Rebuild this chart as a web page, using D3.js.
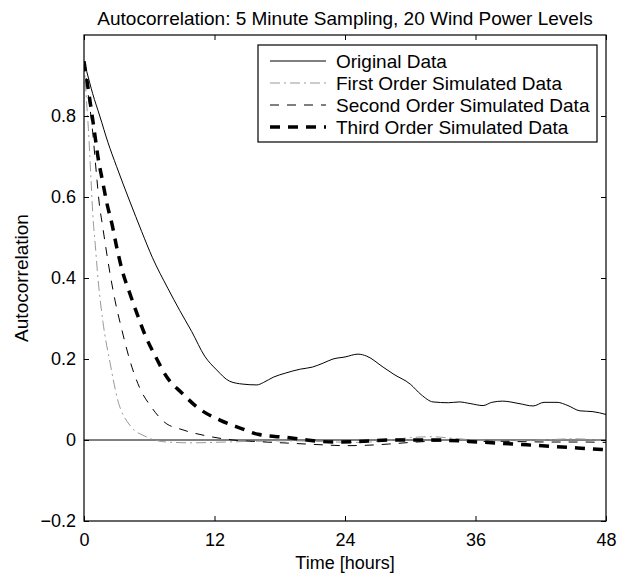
<!DOCTYPE html>
<html>
<head>
	<meta charset="utf-8">
	<title>Autocorrelation</title>
	<style>
		body { margin: 0; background: #fff; }
		text { font-family: "Liberation Sans", Arial, sans-serif; fill: #000; }
	</style>
</head>
<body>
	<svg width="631" height="575"></svg>
<script src="https://cdn.jsdelivr.net/npm/d3@7"></script>
<script>
	// data (hours, autocorrelation)
	let origT = [0, 0.25, 0.8, 1.45, 2.2, 3.0, 4.2, 5.3, 6.3, 7.7, 8.8, 9.9, 11.1, 12.2, 13.4, 14.6, 15.9, 16.5, 17.4, 18.5, 19.9, 21, 22, 22.9, 24, 25.2, 26, 27.5, 28.5, 30, 31, 32.1, 33.5, 34.5, 35.5, 36.7, 37.5, 38.5, 40, 41.3, 42.3, 43.5, 44.5, 45.6, 46.8, 48]
	let origV = [0.935, 0.91, 0.855, 0.80, 0.735, 0.675, 0.59, 0.515, 0.45, 0.375, 0.32, 0.268, 0.207, 0.173, 0.145, 0.138, 0.136, 0.142, 0.155, 0.165, 0.175, 0.18, 0.19, 0.20, 0.205, 0.212, 0.207, 0.18, 0.162, 0.138, 0.112, 0.094, 0.092, 0.094, 0.09, 0.085, 0.093, 0.096, 0.09, 0.084, 0.093, 0.093, 0.085, 0.072, 0.07, 0.063]

	let firstT = [0, 0.2, 0.4, 0.65, 0.85, 1.0, 1.3, 1.75, 2.4, 3.1, 4.2, 5.8, 7.6, 10, 13, 16, 19, 22, 25, 28, 30, 32, 34, 36, 39, 42, 45, 48]
	let firstV = [0.935, 0.85, 0.77, 0.64, 0.54, 0.494, 0.395, 0.29, 0.19, 0.099, 0.037, 0.007, -0.005, -0.007, -0.005, -0.003, -0.002, -0.004, -0.006, -0.001, 0.006, 0.008, 0.004, 0.0, -0.002, 0.0, 0.003, -0.002]

	let secondT = [0, 0.4, 0.8, 1.0, 1.2, 1.4, 1.7, 1.9, 2.4, 2.85, 3.5, 4.2, 5.1, 6.2, 7.4, 9.1, 11.3, 13.7, 16, 19, 22, 24, 26, 28, 30, 32, 34, 36, 38, 40, 43, 46, 48]
	let secondV = [0.935, 0.85, 0.76, 0.70, 0.64, 0.585, 0.53, 0.494, 0.41, 0.345, 0.27, 0.198, 0.13, 0.081, 0.044, 0.025, 0.01, 0.0, -0.004, -0.008, -0.012, -0.014, -0.013, -0.01, -0.006, -0.003, -0.002, -0.004, -0.003, -0.004, -0.005, -0.005, -0.006]

	let thirdT = [0, 0.4, 0.7, 1.0, 1.3, 1.7, 2.1, 2.6, 3.0, 3.5, 4.2, 4.9, 5.7, 6.6, 7.6, 9.0, 10.5, 12.5, 14.3, 16.0, 18.7, 20.5, 22.9, 25, 28.4, 32, 36.4, 40.7, 45, 48]
	let thirdV = [0.935, 0.864, 0.81, 0.753, 0.696, 0.64, 0.585, 0.53, 0.477, 0.42, 0.363, 0.31, 0.254, 0.205, 0.156, 0.116, 0.079, 0.049, 0.03, 0.014, 0.006, 0.0, -0.005, -0.004, 0.0, 0.0, -0.005, -0.012, -0.019, -0.024]

	let xTicks = [0, 12, 24, 36, 48]
	let yTicks = [-0.2, 0, 0.2, 0.4, 0.6, 0.8]
	let names = ["Original Data", "First Order Simulated Data", "Second Order Simulated Data", "Third Order Simulated Data"]

	let series = [
		{ name: names[0], t: origT, v: origV, color: "#000", width: 1, dash: null },
		{ name: names[1], t: firstT, v: firstV, color: "#999", width: 1, dash: "10,4,2,4" },
		{ name: names[2], t: secondT, v: secondV, color: "#000", width: 1, dash: "9,8" },
		{ name: names[3], t: thirdT, v: thirdV, color: "#000", width: 3.5, dash: "10,8" }
	]

	let L = 84, R = 606, T = 35, B = 521
	let x = d3.scaleLinear().domain([0, 48]).range([L, R])
	let y = d3.scaleLinear().domain([-0.2, 1.0]).range([B, T])

	let svg = d3.select("svg")

	svg.append("clipPath").attr("id", "clip")
		.append("rect").attr("x", L).attr("y", T).attr("width", R - L).attr("height", B - T)

	// zero line
	svg.append("line")
		.attr("x1", L).attr("x2", R).attr("y1", y(0)).attr("y2", y(0))
		.attr("stroke", "#000").attr("stroke-width", 1)

	// curves
	let line = d3.line().x(d => x(d[0])).y(d => y(d[1])).curve(d3.curveMonotoneX)
	svg.append("g").attr("clip-path", "url(#clip)")
		.selectAll("path").data(series).enter().append("path")
			.attr("fill", "none")
			.attr("stroke", d => d.color)
			.attr("stroke-width", d => d.width)
			.attr("stroke-dasharray", d => d.dash)
			.attr("d", d => line(d.t.map((t, i) => [t, d.v[i]])))

	// axes, ticks inward (matlab style)
	let fmt = d => d < 0 ? "\u2212" + Math.abs(d) : String(d)
	let ax = (gen, tr) => svg.append("g").attr("transform", tr).call(gen)
	ax(d3.axisBottom(x).tickValues(xTicks).tickSizeInner(-5).tickSizeOuter(0).tickPadding(12), `translate(0,${B})`)
	ax(d3.axisTop(x).tickValues(xTicks).tickSizeInner(-5).tickSizeOuter(0).tickFormat(""), `translate(0,${T})`)
	ax(d3.axisLeft(y).tickValues(yTicks).tickSizeInner(-5).tickSizeOuter(0).tickPadding(8).tickFormat(fmt), `translate(${L},0)`)
	ax(d3.axisRight(y).tickValues(yTicks).tickSizeInner(-5).tickSizeOuter(0).tickFormat(""), `translate(${R},0)`)
	svg.selectAll(".domain").remove()
	svg.selectAll(".tick line").attr("stroke", "#000")
	svg.selectAll(".tick text").style("font-size", "18px").style("font-family", null)

	svg.append("rect")
		.attr("x", L).attr("y", T).attr("width", R - L).attr("height", B - T)
		.attr("fill", "none").attr("stroke", "#000").attr("stroke-width", 1.2)

	// titles
	svg.append("text").attr("x", (L + R) / 2).attr("y", 25)
		.style("text-anchor", "middle").style("font-size", "19px")
		.text("Autocorrelation: 5 Minute Sampling, 20 Wind Power Levels")
	svg.append("text").attr("x", (L + R) / 2).attr("y", 569)
		.style("text-anchor", "middle").style("font-size", "18px")
		.text("Time [hours]")
	svg.append("text").attr("transform", `translate(28,${(T + B) / 2}) rotate(-90)`)
		.style("text-anchor", "middle").style("font-size", "19px")
		.text("Autocorrelation")

	// legend
	let lg = svg.append("g")
	lg.append("rect").attr("x", 258).attr("y", 45).attr("width", 339).attr("height", 97)
		.attr("fill", "#fff").attr("stroke", "#000").attr("stroke-width", 1.2)
	let row = lg.selectAll("g.row").data(series).enter().append("g")
		.attr("transform", (d, i) => `translate(0,${61 + i * 22})`)
	row.append("line").attr("x1", 270).attr("x2", 326)
		.attr("stroke", d => d.color).attr("stroke-width", d => d.width)
		.attr("stroke-dasharray", d => d.dash)
	row.append("text").attr("x", 336).attr("dy", "0.35em")
		.style("font-size", "19px")
		.text(d => d.name)
</script>
</body>
</html>
